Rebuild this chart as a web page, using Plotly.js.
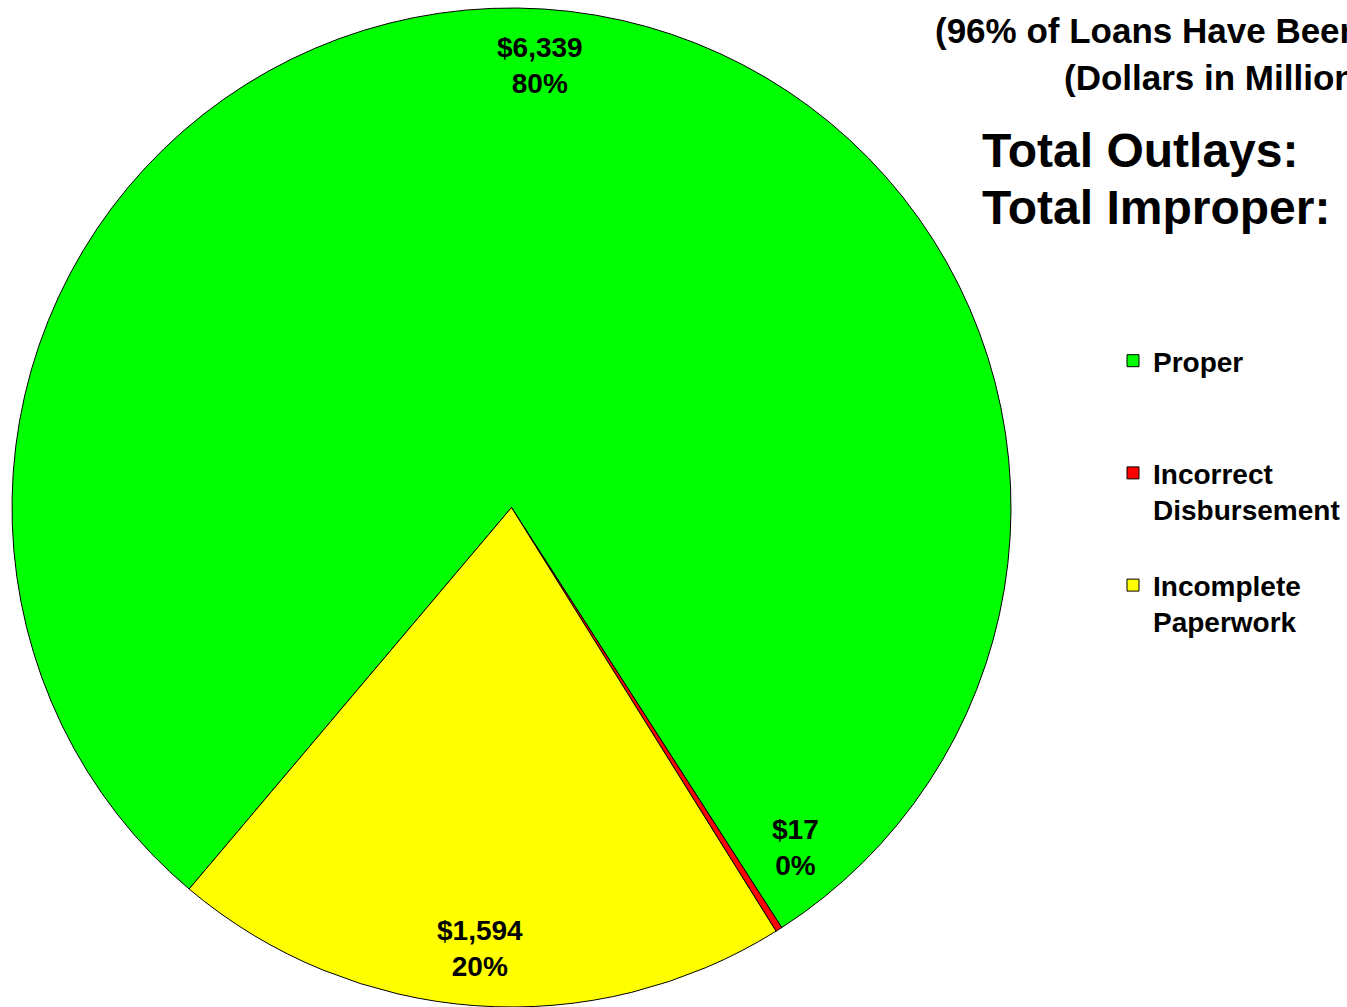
<!DOCTYPE html>
<html>
<head>
<meta charset="utf-8">
<script src="https://cdn.plot.ly/plotly-3.0.1.min.js"></script>
<style>
  html, body { margin: 0; padding: 0; background: #fff; overflow: hidden; }
  #chart { width: 1347px; height: 1007px; }
</style>
</head>
<body>
<div id="chart"></div>
<script>
// ---- data ----
const categories = ['Proper', 'Incorrect<br>Disbursement', 'Incomplete<br>Paperwork'];
const amounts = [6339, 17, 1594];
const colors = ['#00FF00', '#FF0000', '#FFFF00'];
const subtitleLines = ['(96% of Loans Have Been Tested)', '(Dollars in Millions)'];
const summaryLines = ['Total Outlays:', 'Total Improper:'];

// ---- layout constants ----
const W = 1347, H = 1007;
const FONT = 'Liberation Sans, Arial, Helvetica, sans-serif';
const pieLeft = 12, pieTop = 8, pieSize = 999;
const rotation = 220.2;
const labelRadiusFrac = 0.886;
const labelAngleNudge = [0, -7.5, 0];

const domainX = [pieLeft / W, (pieLeft + pieSize) / W];
const domainY = [Math.max(0, 1 - (pieTop + pieSize) / H), 1 - pieTop / H];

// legend text padded to spread entries vertically
const legendText = categories.map(c => {
  const n = c.split('<br>').length;
  let s = c;
  for (let i = n; i < 3; i++) s += '<br>\u00a0';
  return s;
});

const total = amounts.reduce((a, b) => a + b, 0);

const trace = {
  type: 'pie',
  labels: legendText,
  values: amounts,
  sort: false,
  direction: 'clockwise',
  rotation: rotation,
  marker: { colors: colors, line: { color: '#000000', width: 1 } },
  textinfo: 'none',
  hoverinfo: 'none',
  domain: { x: domainX, y: domainY }
};

// data labels positioned from the slice geometry
const annotations = [];
const pxCx = pieLeft + pieSize / 2;
const pxCy = pieTop + pieSize / 2;
const R = pieSize / 2;
let start = rotation;
amounts.forEach((v, i) => {
  const span = v / total * 360;
  const mid = (start + span / 2 + labelAngleNudge[i]) * Math.PI / 180;
  start += span;
  const px = pxCx + R * labelRadiusFrac * Math.sin(mid);
  const py = pxCy - R * labelRadiusFrac * Math.cos(mid);
  annotations.push({
    xref: 'paper', yref: 'paper', x: px / W, y: 1 - py / H,
    xanchor: 'center', yanchor: 'middle', showarrow: false,
    text: '$' + v.toLocaleString('en-US') + '<br>' + Math.round(v / total * 100) + '%',
    font: { family: FONT, size: 28, color: '#000', weight: 700 }
  });
});

// subtitle lines (continue off the right edge, as in the source)
const subPos = [[933, 30], [1062, 77]];
subtitleLines.forEach((t, i) => {
  annotations.push({
    xref: 'paper', yref: 'paper', x: subPos[i][0] / W, y: 1 - subPos[i][1] / H,
    xanchor: 'left', yanchor: 'middle', showarrow: false, align: 'left',
    text: t, font: { family: FONT, size: 35, color: '#000', weight: 700 }
  });
});
const sumPos = [[980, 151], [980, 208]];
summaryLines.forEach((t, i) => {
  annotations.push({
    xref: 'paper', yref: 'paper', x: sumPos[i][0] / W, y: 1 - sumPos[i][1] / H,
    xanchor: 'left', yanchor: 'middle', showarrow: false, align: 'left',
    text: t, font: { family: FONT, size: 48, color: '#000', weight: 700 }
  });
});

const layout = {
  width: W, height: H,
  margin: { l: 0, r: 0, t: 0, b: 0, pad: 0 },
  paper_bgcolor: '#ffffff',
  plot_bgcolor: '#ffffff',
  showlegend: true,
  legend: {
    x: 1113 / W, y: 1 - 336 / H, xanchor: 'left', yanchor: 'top',
    bgcolor: 'rgba(0,0,0,0)', borderwidth: 0, valign: 'top',
    font: { family: FONT, size: 28, color: '#000', weight: 700 }
  },
  annotations: annotations
};

Plotly.newPlot('chart', [trace], layout, { staticPlot: true, displayModeBar: false });
</script>
</body>
</html>
